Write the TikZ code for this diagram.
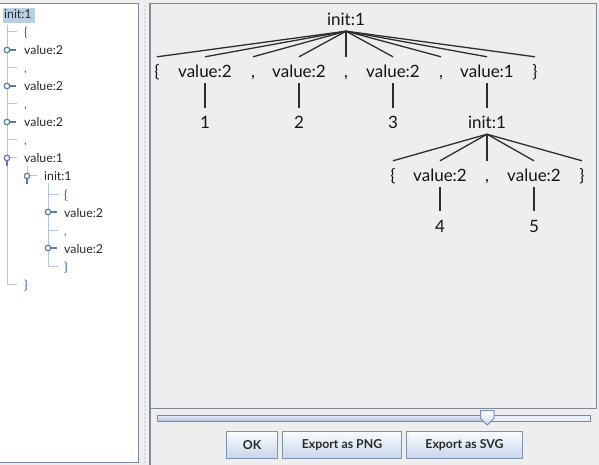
\documentclass[tikz,border=0pt]{standalone}
\usepackage{fontspec}
\setmainfont{Lato}
\definecolor{panelbg}{HTML}{EEEEEE}
\definecolor{frame}{HTML}{7A8A9C}
\definecolor{treeline}{HTML}{B3C6E0}
\definecolor{handle}{HTML}{5A78B4}
\definecolor{selbg}{HTML}{B8CFE5}
\definecolor{leafblue}{HTML}{2F5DAE}
\definecolor{txt}{HTML}{2A2A2A}
\definecolor{btntop}{HTML}{FAFCFE}
\definecolor{btnbot}{HTML}{C6D6EA}
\definecolor{btnframe}{HTML}{7D92B2}
\begin{document}
\begin{tikzpicture}[x=1pt,y=-1pt,
  tn/.style={font=\fontsize{17}{19}\selectfont, text=black!92, anchor=base, inner xsep=0pt, inner ysep=2pt, text height=19pt, text depth=3pt},
  edge/.style={draw=black!82, line width=1.3pt},
  lt/.style={font=\fontsize{12.3}{14}\selectfont, text=txt, anchor=base west, inner sep=0pt},
  lb/.style={lt, text=leafblue},
  tl/.style={draw=treeline, line width=1pt},
  hcirc/.style={circle, draw=handle, fill=white, line width=1.2pt, minimum size=5.5pt, inner sep=0pt},
  hline/.style={draw=handle, line width=1.6pt},
  btn/.style={draw=btnframe, line width=1pt, top color=btntop, bottom color=btnbot, font=\bfseries\fontsize{12.3}{14}\selectfont, text=txt, anchor=north west, inner sep=0pt, minimum height=27pt}
]
\useasboundingbox (0,0) rectangle (599,465);
% backgrounds
\fill[panelbg] (0,0) rectangle (599,465);
\fill[white] (0,4) rectangle (138.5,462);
\draw[frame, line width=1pt] (0,3.5) -- (138.5,3.5) -- (138.5,462) -- (0,462);
% splitter dots
\foreach \yy in {6,10,...,462} { \fill[black!40] (145,\yy) circle (0.55); }
% right panel
\draw[frame, line width=1pt] (148.5,3.5) -- (596.5,3.5) -- (596.5,408.5) -- (149.5,408.5);
\draw[frame, line width=2pt] (149.5,3) -- (149.5,465);

% ---------- left tree ----------
\fill[selbg] (3,8) rectangle (35,23.5);
% trunk lines
\draw[tl] (7,25) -- (7,284);
\foreach \i in {1,3,5,7,15} { \draw[tl] (7,14+18*\i) -- (17,14+18*\i); }
\draw[tl] (27,166) -- (27,176);
\draw[tl] (48,183) -- (48,266);
\foreach \i in {10,12,14} { \draw[tl] (48,14+18*\i) -- (58,14+18*\i); }
% collapsed handles
\foreach \xx/\i in {7/2,7/4,7/6,48/11,48/13} {
  \draw[hline] (\xx,14+18*\i) -- (\xx+9,14+18*\i);
  \node[hcirc] at (\xx,14+18*\i) {};
}
% expanded handles
\foreach \xx/\i in {7/8,27/9} {
  \draw[tl] (\xx,14+18*\i) -- (\xx+10,14+18*\i);
  \draw[hline] (\xx,14+18*\i) -- (\xx,14+18*\i+8);
  \node[hcirc] at (\xx,14+18*\i) {};
}
\node[lt] (t0) at (4,19) {init:1};
\node[lb] (t1) at (24,37) {\{};
\node[lt] (t2) at (24,55) {value:2};
\node[lb] (t3) at (24,73) {,};
\node[lt] (t4) at (24,91) {value:2};
\node[lb] (t5) at (24,109) {,};
\node[lt] (t6) at (24,127) {value:2};
\node[lb] (t7) at (24,145) {,};
\node[lt] (t8) at (24,163) {value:1};
\node[lt] (t9) at (44,181) {init:1};
\node[lb] (t10) at (64,199) {\{};
\node[lt] (t11) at (64,217) {value:2};
\node[lb] (t12) at (64,235) {,};
\node[lt] (t13) at (64,253) {value:2};
\node[lb] (t14) at (64,271) {\}};
\node[lb] (t15) at (24,289) {\}};

% ---------- right tree ----------
\node[tn] (root) at (346,26) {init:1};
\node[tn] (lbr) at (157,78) {\{};
\node[tn] (v1) at (205,78) {value:2};
\node[tn] (c1) at (253,78) {,};
\node[tn] (v2) at (299,78) {value:2};
\node[tn] (c2) at (346,78) {,};
\node[tn] (v3) at (393,78) {value:2};
\node[tn] (c3) at (441,78) {,};
\node[tn] (v4) at (487,78) {value:1};
\node[tn] (rbr) at (535,78) {\}};
\foreach \c in {lbr,v1,c1,v2,c2,v3,c3,v4,rbr} { \draw[edge] (root.south) -- (\c.north); }
\node[tn] (n1) at (205,129) {1};
\node[tn] (n2) at (299,129) {2};
\node[tn] (n3) at (393,129) {3};
\node[tn] (sub) at (487,129) {init:1};
\draw[edge] (v1.south) -- (n1.north);
\draw[edge] (v2.south) -- (n2.north);
\draw[edge] (v3.south) -- (n3.north);
\draw[edge] (v4.south) -- (sub.north);
\node[tn] (slb) at (393,182) {\{};
\node[tn] (sv1) at (440,182) {value:2};
\node[tn] (sc) at (487,182) {,};
\node[tn] (sv2) at (534,182) {value:2};
\node[tn] (srb) at (582,182) {\}};
\foreach \c in {slb,sv1,sc,sv2,srb} { \draw[edge] (sub.south) -- (\c.north); }
\node[tn] (n4) at (440,232) {4};
\node[tn] (n5) at (534,232) {5};
\draw[edge] (sv1.south) -- (n4.north);
\draw[edge] (sv2.south) -- (n5.north);

% ---------- slider ----------
\fill[white!60!btnbot] (157,415) rectangle (590,421);
\shade[top color=white!60!btnbot, bottom color=btnbot!80!handle] (157,415) rectangle (487,421);
\draw[frame, line width=1pt] (157,415) rectangle (590,421);
\shade[top color=white, bottom color=btnbot, draw=btnframe, line width=1pt]
  (480.5,410.5) -- (494,410.5) -- (494,418.5) -- (487.25,425) -- (480.5,418.5) -- cycle;

% ---------- buttons ----------
\node[btn, minimum width=51pt] (ok) at (226,431) {OK};
\node[btn, minimum width=119pt] (png) at (282,431) {Export as PNG};
\node[btn, minimum width=116pt] (svg) at (406,431) {Export as SVG};
\end{tikzpicture}
\end{document}
